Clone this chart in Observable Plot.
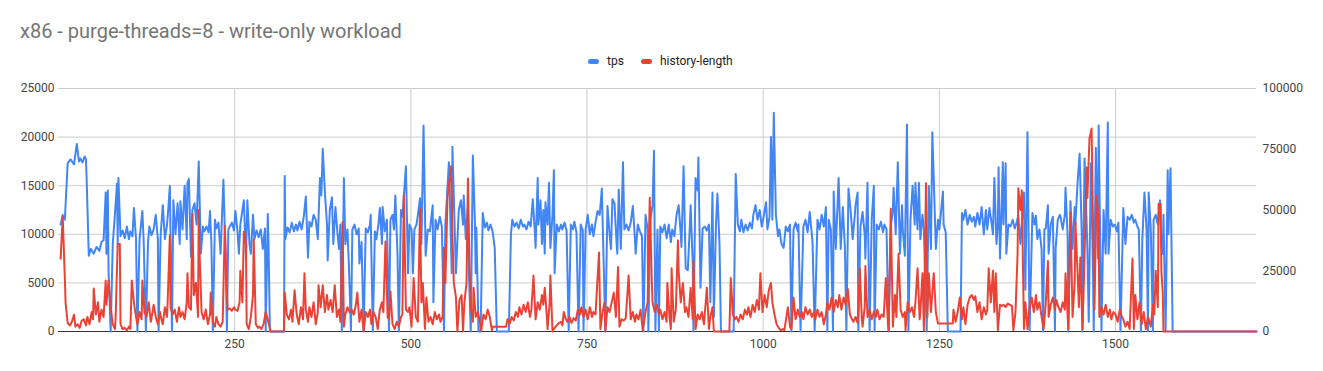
<!DOCTYPE html>
<html><head><meta charset="utf-8">
<script src="https://cdn.jsdelivr.net/npm/d3@7"></script>
<script src="https://cdn.jsdelivr.net/npm/@observablehq/plot@0.6"></script>
<style>
body{margin:0;background:#fff;font-family:Roboto,"Noto Sans",sans-serif;}
#wrap{position:relative;width:1323px;height:371px;overflow:hidden;}
#title{position:absolute;left:20px;top:19px;font-size:20px;color:#757575;white-space:nowrap;}
.sw{position:absolute;top:59px;width:11px;height:5px;border-radius:3px;}
.lg{position:absolute;top:54px;font-size:12px;color:#222;white-space:nowrap;}
#chart{position:absolute;left:0;top:0;}
</style></head>
<body><div id="wrap">
<div id="chart"></div>
<div id="title">x86 - purge-threads=8 - write-only workload</div>
<div class="sw" style="left:588px;background:#4285F4"></div><div class="lg" style="left:607px">tps</div>
<div class="sw" style="left:641px;background:#EA4335"></div><div class="lg" style="left:660px">history-length</div>
</div>
<script>
const xTicks = [250, 500, 750, 1000, 1250, 1500];
const leftTicks = [0, 5000, 10000, 15000, 20000, 25000];
const rightTicks = [0, 25000, 50000, 75000, 100000];
const seriesNames = ["tps", "history-length"];
const seriesColors = ["#4285F4", "#EA4335"];

// [x, tps]
const tpsPoints = [[3,11000],[6,12000],[9,11500],[13,17300],[17,17700],[22,17200],[26,19300],[29,17500],[31,17800],[34,17400],[37,18000],[39,17700],[40,15500],[43,7800],[46,8500],[50,8000],[54,8700],[58,8300],[61,9200],[64,9400],[67,14300],[68,8000],[70,14500],[71,6300],[74,0],[77,9000],[80,12000],[83,15200],[84,9000],[85,15800],[88,9800],[91,10400],[94,9600],[97,10800],[100,9500],[102,10300],[105,9800],[107,12700],[110,9500],[112,0],[115,9500],[119,12400],[121,9000],[124,0],[127,9200],[129,10800],[132,9900],[135,10500],[138,12000],[141,9500],[142,0],[145,10000],
[148,13000],[151,9500],[154,11000],[156,12800],[158,15000],[159,9800],[161,0],[163,13500],[166,10000],[169,13200],[172,9000],[173,13400],[176,10500],[179,15000],[182,9500],[183,15300],[185,15700],[188,7700],[190,12500],[193,13200],[196,11000],[199,17500],[202,8000],[205,10800],[207,10300],[210,10800],[213,10200],[215,12400],[217,9000],[219,0],[222,11500],[224,10600],[227,11200],[230,8000],[234,15600],[237,8000],[239,0],[241,10500],[246,11200],[249,10400],[251,12400],[254,10300],[256,8000],[258,11000],[263,13500],[266,7500],[268,13500],[271,9000],[273,8000],[276,12000],[278,9500],[281,10400],[284,9700],[287,10500],[290,8500],[293,10600],[294,0],[297,12100],[298,9000],[300,0],[320,0],[321,16000],[322,9500],[325,10700],[328,10200],[331,11200],[334,10300],[337,11000],[339,10400],[342,11300],[345,10500],[348,11800],[351,13900],[354,7600],[356,11300],[359,10800],[362,12000],[365,11500],[368,9500],[371,15800],[373,14000],[375,18800],[378,14300],[381,11000],[382,7300],[385,12500],[388,13800],[390,9000],[393,12800],[396,10000],[398,8500],[400,11000],[402,0],[405,15800],[407,9000],[410,10500],[412,7000],[415,0],[417,10500],[420,11000],[423,10000],[426,10600],[427,7000],[430,9200],[433,0],[436,10600],[439,10200],[442,11000],[443,12000],[446,0],[449,10300],[451,9500],[454,11000],[456,12700],[459,9000],[460,12800],[463,10300],[466,11500],[469,0],[471,11500],[474,12000],[476,10500],[478,14000],[481,8000],[483,0],[486,12500],[488,11800],[491,14900],[493,17000],[496,6000],[498,11000],[501,10500],[503,6000],[505,10500],[508,11000],[510,12000],[513,13700],[515,9000],[518,21200],[521,7800],[524,10500],[527,10300],[528,11000],[531,13000],[532,3000],[535,11500],[538,10500],[541,11800],[544,10800],[547,0],[549,11000],[554,17400],[558,6000],[559,19000],[564,6000],[568,12500],[571,13500],[574,11000],[575,14000],[578,9500],[581,13000],[582,7000],[585,0],[588,18100],[591,11000],[592,6000],[593,10700],[596,0],[599,0],[602,12200],[605,10700],[608,11200],[610,10400],[613,11000],[616,10300],[619,8600],[622,0],[639,0],[642,10000],[644,11500],[647,10800],[650,11200],[653,10600],[656,11500],[659,10800],[661,11000],[664,10500],[667,11300],[670,10800],[673,13600],[676,10200],[677,8600],[680,15800],[681,11000],[684,13500],[686,9000],[688,12500],[690,8000],[691,13300],[694,11000],[696,15300],[698,8600],[701,12000],[703,16600],[704,6000],[707,11000],[710,10300],[713,11000],[715,10500],[718,11200],[721,10400],[724,0],[727,11000],[730,10500],[732,11300],[735,10200],[738,0],[741,11000],[744,10400],[745,0],[748,10500],[751,12000],[754,10000],[757,11000],[759,9800],[762,11200],[765,12400],[768,12000],[771,14700],[774,6000],[776,0],[779,12900],[782,10000],[784,8500],[786,13600],[789,13200],[792,9000],[793,8000],[795,14600],[798,8500],[801,17400],[803,10500],[806,11000],[809,10400],[812,11200],[815,12900],[818,9500],[819,8000],[822,11000],[825,10300],[828,9800],[830,0],[833,12000],[836,10500],[837,0],[840,11500],[843,13000],[845,18600],[847,0],[850,10500],[852,0],[854,10800],[857,10200],[860,11000],[863,9600],[866,11000],[869,9200],[871,10500],[874,9800],[877,12000],[880,13000],[883,10000],[884,8700],[887,17000],[890,6500],[893,6300],[896,11000],[897,13000],[900,7000],[901,0],[904,15800],[907,14500],[908,17900],[911,4500],[914,10600],[917,10800],[920,10400],[923,11000],[925,3000],[928,14300],[930,1500],[933,11000],[935,14200],[938,9000],[940,0],[958,0],[961,16200],[964,11000],[967,10300],[969,11500],[972,10200],[975,11000],[978,10400],[981,11200],[984,10600],[986,12000],[989,13000],[992,11500],[995,12500],[998,10800],[1001,12000],[1004,13300],[1006,10500],[1009,11800],[1011,20000],[1013,11500],[1015,22500],[1018,12000],[1021,9800],[1023,10500],[1026,9000],[1029,8600],[1032,10800],[1035,10300],[1038,11000],[1040,0],[1043,10500],[1046,11200],[1049,10300],[1050,11000],[1053,0],[1057,10800],[1060,11500],[1063,10200],[1066,12300],[1069,10000],[1070,9200],[1073,0],[1077,11500],[1080,10500],[1083,12000],[1086,10800],[1089,12800],[1091,0],[1093,11500],[1096,10500],[1099,0],[1100,14400],[1103,8500],[1107,15800],[1110,8500],[1113,12800],[1116,8500],[1118,0],[1121,14700],[1124,12500],[1127,9500],[1130,12000],[1131,13000],[1134,14300],[1135,0],[1138,10800],[1141,12300],[1144,10000],[1145,7500],[1148,15300],[1151,0],[1154,11500],[1157,15000],[1158,0],[1161,11000],[1164,10500],[1167,11300],[1170,10200],[1172,11000],[1175,10500],[1178,0],[1181,10800],[1184,12500],[1185,14800],[1188,10000],[1191,17400],[1194,8000],[1197,13000],[1198,10500],[1201,7800],[1204,21300],[1206,0],[1209,11500],[1212,15000],[1215,11000],[1216,15300],[1219,10500],[1221,15300],[1223,9500],[1226,12000],[1228,10500],[1232,0],[1235,15000],[1238,8500],[1240,20500],[1245,8500],[1248,11500],[1250,10500],[1255,14400],[1256,11000],[1259,10200],[1262,0],[1280,0],[1282,12200],[1284,11500],[1287,12500],[1290,11000],[1293,12000],[1296,11300],[1299,11800],[1301,10800],[1304,12200],[1307,11000],[1310,12800],[1313,10000],[1316,12500],[1318,10500],[1321,12700],[1324,11200],[1326,10000],[1328,15800],[1331,9000],[1333,11000],[1334,16900],[1336,7500],[1338,12000],[1340,17400],[1341,11000],[1344,17300],[1345,8000],[1348,11000],[1351,10800],[1354,11500],[1357,10600],[1360,11300],[1362,12000],[1365,9000],[1370,14300],[1372,4300],[1375,20500],[1378,0],[1382,12200],[1385,11000],[1387,11900],[1389,9500],[1392,10500],[1395,8500],[1397,0],[1399,10500],[1401,10600],[1404,13000],[1405,8000],[1408,11000],[1411,11800],[1414,0],[1415,8500],[1418,11500],[1421,12000],[1422,11800],[1425,10500],[1428,12000],[1429,14800],[1432,9800],[1433,0],[1436,13400],[1439,8500],[1442,12800],[1443,11000],[1446,15200],[1449,18300],[1452,10000],[1453,0],[1456,17800],[1459,11000],[1460,8500],[1462,1000],[1465,17300],[1468,6000],[1469,0],[1472,18900],[1475,7500],[1476,21200],[1480,0],[1483,12500],[1486,8000],[1489,21500],[1490,8000],[1493,11500],[1496,10800],[1499,11000],[1502,10300],[1504,11200],[1507,0],[1511,12700],[1514,9000],[1517,11800],[1520,11500],[1523,12000],[1526,11200],[1528,11500],[1531,10800],[1533,10500],[1536,0],[1538,9500],[1541,14300],[1544,10500],[1546,0],[1547,14300],[1550,10500],[1553,0],[1554,11500],[1557,12000],[1560,11000],[1563,13500],[1565,9000],[1567,8000],[1568,12000],[1571,0],[1574,16600],[1575,10000],[1578,16800],[1581,0],[1700,0]];

// [x, history-length]
const historyPoints = [[3,30000],[6,47000],[9,22000],[10,12000],[13,3500],[16,2500],[19,4000],[22,6900],[24,2000],[27,3000],[30,1500],[33,4500],[36,5000],[39,2500],[41,6000],[44,3000],[47,8000],[49,5000],[50,17700],[53,7000],[56,12000],[58,4000],[61,9000],[64,6000],[67,21000],[68,11000],[71,21000],[74,10000],[77,3000],[80,1000],[81,5000],[84,36000],[87,36000],[88,3000],[91,1000],[94,1500],[97,500],[100,2000],[102,1000],[104,21000],[107,12000],[110,6000],[112,3000],[115,8000],[118,5000],[119,21000],[122,8000],[125,6000],[128,12000],[131,4000],[134,9000],[135,11000],[138,6000],[141,3000],[144,8000],[146,5000],[148,3000],[151,10000],[154,6000],[155,13000],[158,39500],[159,10000],[162,7000],[165,9000],[168,4000],[171,10000],[173,6000],[176,8000],[179,5000],[182,12000],[183,24000],[185,10000],[188,9000],[190,48500],[192,15000],[195,20000],[198,6000],[199,50000],[200,34000],[203,8000],[206,5000],[209,9000],[212,3000],[215,7000],[216,16000],[219,4000],[222,2000],[224,6000],[227,3000],[230,2000],[233,4000],[236,43500],[239,15000],[240,9000],[243,9500],[246,8500],[249,10000],[251,9000],[254,8500],[257,12000],[258,25000],[261,12000],[263,41000],[266,36000],[267,3000],[270,1000],[273,6000],[276,15000],[277,38000],[280,3000],[283,1500],[285,2000],[288,1000],[291,3000],[294,8000],[297,5000],[298,3500],[301,0],[320,0],[321,16000],[324,7000],[327,5000],[330,9000],[332,4000],[335,17000],[338,7000],[341,3000],[344,10000],[347,5000],[349,24000],[351,9000],[354,4000],[356,10000],[359,6000],[362,12000],[365,3000],[368,8000],[369,19000],[372,10000],[375,19000],[378,8000],[381,15000],[383,9000],[386,13000],[389,8000],[392,19000],[395,6000],[398,9000],[400,4000],[403,45000],[405,2000],[407,7000],[410,10000],[413,8000],[416,9000],[419,7000],[422,11000],[424,16000],[427,4000],[430,9000],[433,0],[436,8000],[439,6000],[442,9000],[444,3000],[447,8000],[450,6000],[453,1000],[456,9000],[459,12000],[461,8000],[464,37000],[467,6000],[469,5000],[471,16500],[474,3000],[477,1000],[480,4000],[483,2000],[486,6000],[488,7000],[490,56000],[493,9000],[496,8000],[498,10000],[501,2000],[504,22000],[507,6000],[510,4000],[513,50500],[515,12000],[517,20000],[520,1000],[522,14000],[525,4000],[528,6000],[531,3000],[534,8000],[537,5000],[540,7000],[542,4000],[545,6000],[547,34500],[549,20000],[552,55000],[557,68000],[559,40000],[561,20000],[564,14000],[566,0],[569,13000],[572,15000],[574,0],[576,12000],[579,20000],[581,63000],[583,30000],[585,10000],[588,4000],[589,18000],[592,6000],[595,8000],[598,4000],[600,500],[603,7000],[606,5000],[609,9000],[612,6000],[615,500],[616,2000],[635,2000],[637,5000],[640,3000],[643,6000],[646,4500],[649,8000],[652,6000],[654,10000],[657,7000],[660,11000],[663,8000],[666,12000],[669,6000],[671,9000],[674,23000],[677,5000],[680,12000],[683,9000],[686,15000],[688,11000],[690,18000],[693,6000],[694,1000],[697,12000],[698,23000],[701,0],[704,1500],[707,2500],[710,3500],[713,4000],[715,2500],[717,8000],[720,5000],[722,4000],[725,6000],[728,3500],[731,5500],[734,4500],[737,9000],[740,7000],[742,10000],[745,6000],[748,9000],[751,5000],[754,10000],[757,6000],[759,8000],[762,7000],[767,32500],[769,1000],[772,8000],[775,12000],[776,0],[779,10000],[782,8000],[785,12000],[788,16000],[791,6000],[794,26500],[796,2000],[799,5000],[802,4500],[805,5500],[809,23000],[812,5000],[815,8000],[818,4000],[820,7000],[823,5000],[826,9000],[829,500],[833,8000],[836,12000],[839,55000],[842,20000],[843,12000],[846,8000],[849,11000],[852,7000],[854,9000],[857,5000],[860,8000],[863,4000],[864,20000],[867,6000],[869,1000],[870,26000],[873,4000],[876,9000],[879,37500],[880,25000],[883,12000],[886,20000],[889,8000],[891,10000],[894,6000],[897,18000],[900,5000],[901,29000],[904,1000],[907,7000],[910,5000],[913,8000],[916,3000],[920,18000],[923,1000],[925,6000],[928,10000],[930,0],[952,0],[954,22000],[957,7000],[960,5000],[962,6000],[965,4000],[968,7000],[971,5000],[974,9000],[977,7000],[979,10000],[982,6000],[985,11000],[988,8000],[991,13000],[994,9000],[996,24000],[999,8000],[1002,15000],[1005,10000],[1008,17000],[1011,20000],[1013,12000],[1016,7000],[1019,3000],[1022,1500],[1025,500],[1028,1000],[1030,500],[1035,10000],[1038,2000],[1040,1000],[1043,14000],[1046,5000],[1049,9000],[1052,6000],[1055,8000],[1057,5000],[1060,10000],[1063,7000],[1066,9000],[1069,6000],[1072,8000],[1074,5000],[1077,9000],[1080,6000],[1083,8000],[1086,3000],[1089,7000],[1091,12000],[1094,9000],[1097,14000],[1100,8000],[1103,13000],[1106,10000],[1108,15000],[1111,9000],[1114,14000],[1117,11000],[1120,17500],[1123,7000],[1126,5000],[1128,4000],[1131,6000],[1134,3500],[1137,26000],[1140,5000],[1141,2000],[1144,10000],[1145,27000],[1148,6000],[1151,9000],[1154,5000],[1157,8000],[1160,6000],[1162,9000],[1165,5000],[1168,7000],[1171,6000],[1174,22000],[1177,3000],[1178,500],[1181,50500],[1184,2000],[1187,15000],[1189,6000],[1192,32000],[1195,9000],[1198,6000],[1201,8000],[1202,500],[1205,12000],[1208,8000],[1211,10000],[1214,6000],[1216,12000],[1219,26000],[1222,5000],[1223,8000],[1226,24000],[1228,500],[1231,61000],[1233,6000],[1235,24000],[1238,8000],[1242,24000],[1245,8000],[1248,3300],[1269,3300],[1270,9000],[1273,4000],[1276,8000],[1279,14000],[1282,5000],[1284,10000],[1287,3000],[1290,11000],[1293,14000],[1296,15000],[1299,13000],[1301,14500],[1304,8000],[1307,12000],[1310,5000],[1313,10000],[1316,7000],[1318,9000],[1320,26000],[1323,12000],[1326,25000],[1328,8000],[1330,24000],[1333,500],[1336,11000],[1338,10500],[1341,11000],[1344,10000],[1347,11500],[1350,11000],[1353,10500],[1355,500],[1358,8000],[1361,32000],[1362,59000],[1365,50000],[1367,58000],[1370,1000],[1372,12000],[1375,1000],[1378,10000],[1381,14000],[1384,8000],[1387,15000],[1389,9000],[1392,12000],[1395,6000],[1398,1000],[1401,12000],[1404,29000],[1405,6000],[1408,11000],[1411,14000],[1414,9000],[1416,13000],[1419,10000],[1422,8000],[1425,12000],[1428,9000],[1429,24000],[1432,6000],[1433,1000],[1436,49000],[1439,6000],[1442,20000],[1443,45000],[1446,25000],[1448,10000],[1450,30500],[1453,1000],[1455,20000],[1459,67500],[1460,55000],[1463,79500],[1466,83500],[1468,45000],[1470,9000],[1473,56000],[1476,45000],[1477,6000],[1480,10000],[1483,7000],[1486,11000],[1489,6000],[1492,9000],[1494,5000],[1497,8000],[1500,7000],[1503,4000],[1506,9000],[1509,6000],[1511,5000],[1514,2000],[1517,4000],[1520,1000],[1524,30000],[1526,1000],[1528,15000],[1531,5000],[1534,12000],[1537,3000],[1540,8000],[1543,1000],[1546,6000],[1550,2000],[1553,11000],[1555,7000],[1557,25000],[1560,10000],[1561,52500],[1564,52500],[1565,25000],[1567,16000],[1568,0],[1700,0]];

const ratio = rightTicks[rightTicks.length - 1] / leftTicks[leftTicks.length - 1]; // right axis scale factor
const tps = tpsPoints.map(([x, v]) => ({x, v}));
const hist = historyPoints.map(([x, v]) => ({x, v: v / ratio}));

const chart = Plot.plot({
  width: 1323, height: 371,
  marginLeft: 58, marginRight: 67, marginTop: 88, marginBottom: 40,
  x: {domain: [0, 1700]},
  y: {domain: [0, 25000]},
  style: {fontFamily: "Roboto, 'Noto Sans', sans-serif", fontSize: "12px", color: "#444", background: "white"},
  marks: [
    Plot.gridY(leftTicks.slice(1), {stroke: "#cccccc", strokeOpacity: 1}),
    Plot.gridX(xTicks, {stroke: "#cccccc", strokeOpacity: 1}),
    Plot.axisY({ticks: leftTicks, tickSize: 0, tickPadding: 4, label: null, tickFormat: d => String(d)}),
    Plot.axisY({anchor: "right", ticks: rightTicks.map(v => v / ratio), tickSize: 0, tickPadding: 6, label: null, tickFormat: d => String(Math.round(d * ratio))}),
    Plot.axisX({ticks: xTicks, tickSize: 0, tickPadding: 8, label: null, tickFormat: d => String(d)}),
    Plot.ruleY([0], {stroke: "#333333"}),
    Plot.line(tps, {x: "x", y: "v", stroke: seriesColors[0], strokeWidth: 2}),
    Plot.line(hist, {x: "x", y: "v", stroke: seriesColors[1], strokeWidth: 2})
  ]
});
document.getElementById("chart").appendChild(chart);
</script>
</body></html>
